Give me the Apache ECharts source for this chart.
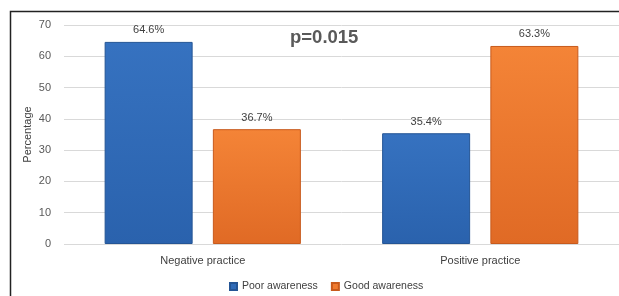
<!DOCTYPE html>
<html>
<head>
<meta charset="utf-8">
<script src="https://cdn.jsdelivr.net/npm/echarts@6/dist/echarts.min.js"></script>
<style>html,body{margin:0;padding:0;background:#fff}#c{width:619px;height:296px}</style>
</head>
<body>
<div id="c"></div>
<script>
const categories = ["Negative practice", "Positive practice"];
const poorAwareness = [64.6, 35.4];
const goodAwareness = [36.7, 63.3];
const seriesNames = ["Poor awareness", "Good awareness"];
const yTicks = [0, 10, 20, 30, 40, 50, 60, 70];

const chart = echarts.init(document.getElementById('c'));
const lbl = {show: true, position: 'top', distance: 6, formatter: p => p.value.toFixed(1) + '%', color: '#404040', fontSize: 11, fontFamily: 'Liberation Sans'};
function grad(top, bot){return new echarts.graphic.LinearGradient(0,0,0,1,[{offset:0,color:top},{offset:1,color:bot}]);}
chart.setOption({
  animation: false,
  grid: {left: 64, right: -7, top: 25, bottom: 52},
  title: {text: 'p=0.015', left: 285, top: 23, textStyle: {fontSize: 18.5, fontWeight: 'bold', color: '#595959', fontFamily: 'Liberation Sans'}},
  legend: {bottom: -1, left: 224, itemWidth: 7, itemHeight: 7, itemGap: 13, icon: 'rect',
    textStyle: {fontSize: 10.5, color: '#404040', fontFamily: 'Liberation Sans'},
    data: [{name: seriesNames[0], itemStyle: {color: '#2f6bb8'}}, {name: seriesNames[1], itemStyle: {color: '#f07b2f'}}]},
  xAxis: {type: 'category', data: categories, axisLine: {show: false}, axisTick: {show: false},
    axisLabel: {color: '#404040', fontSize: 11, margin: 11, fontFamily: 'Liberation Sans'}},
  yAxis: {type: 'value', min: yTicks[0], max: yTicks[yTicks.length-1], interval: 10,
    name: 'Percentage', nameLocation: 'middle', nameGap: 31, nameRotate: 90, nameMoveOverlap: false,
    nameTextStyle: {color: '#404040', fontSize: 11, fontFamily: 'Liberation Sans'},
    axisLabel: {color: '#595959', fontSize: 11, margin: 13, fontFamily: 'Liberation Sans'},
    splitLine: {lineStyle: {color: '#d9d9d9', width: 1}}, axisLine: {show: false}, axisTick: {show: false}},
  series: [
    {name: seriesNames[0], type: 'bar', data: poorAwareness, barWidth: 88, barGap: '23%',
     itemStyle: {color: grad('#3672c0', '#2a62ad'), borderColor: '#245595', borderWidth: 1}, label: lbl},
    {name: seriesNames[1], type: 'bar', data: goodAwareness, barWidth: 88,
     itemStyle: {color: grad('#f48437', '#e06a25'), borderColor: '#c85a1c', borderWidth: 1}, label: lbl}
  ],
  graphic: [{type: 'polyline', shape: {points: [[10.5, 296], [10.5, 11.5], [619, 11.5]]}, style: {stroke: '#222', lineWidth: 1.5, fill: null}}]
});
</script>
</body>
</html>
